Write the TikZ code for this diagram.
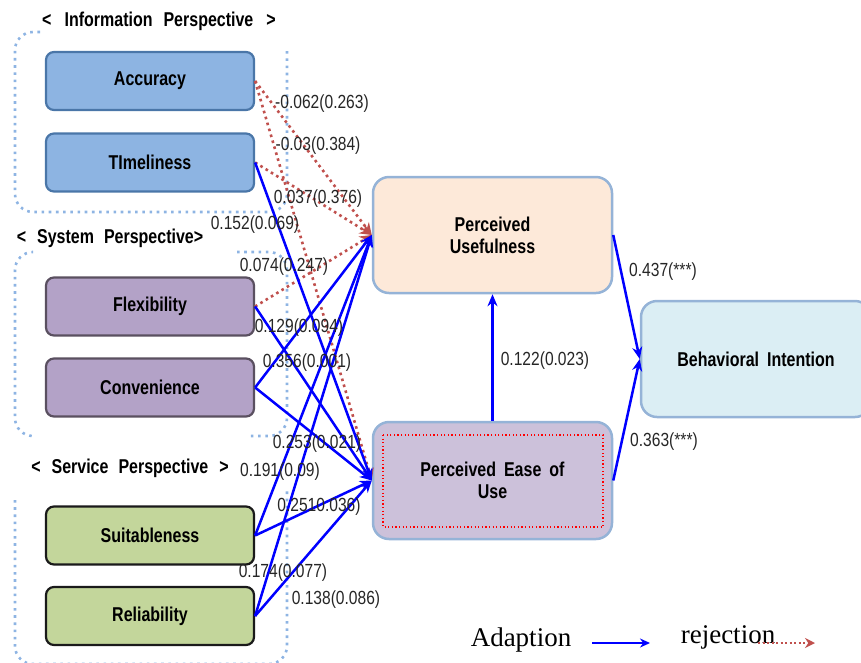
\documentclass[tikz,border=0pt]{standalone}
\usepackage{fontspec}
\setmainfont{Liberation Sans}
\newfontfamily\numfont[FakeStretch=0.82]{Liberation Sans}
\newfontfamily\boxfont[FakeStretch=0.8]{Liberation Sans}
\newfontfamily\legfont{Liberation Serif}
\usetikzlibrary{arrows.meta}
\definecolor{accfill}{HTML}{8DB4E2}
\definecolor{accdraw}{HTML}{4A76A8}
\definecolor{flexfill}{HTML}{B3A2C7}
\definecolor{flexdraw}{HTML}{5A5060}
\definecolor{suitfill}{HTML}{C3D69B}
\definecolor{suitdraw}{HTML}{1A1A1A}
\definecolor{pufill}{HTML}{FDE9D9}
\definecolor{peoufill}{HTML}{CCC1DA}
\definecolor{bifill}{HTML}{DBEEF4}
\definecolor{bigdraw}{HTML}{95B3D7}
\definecolor{grpblue}{HTML}{8EB4E3}
\definecolor{rejred}{HTML}{C0504D}
\definecolor{adblue}{HTML}{0000FF}
\begin{document}
\begin{tikzpicture}[x=1pt,y=-1pt,
  lbl/.style={font=\numfont\fontsize{19}{21}\selectfont, inner sep=0pt, text=black!85},
  persp/.style={font=\boxfont\fontsize{20}{22}\selectfont\bfseries, inner sep=0pt},
  leftbox/.style={rectangle, rounded corners=8pt, minimum width=208pt, minimum height=58pt,
     line width=2.2pt, font=\boxfont\fontsize{20}{22}\selectfont\bfseries, inner sep=0pt},
  infobox/.style={leftbox, fill=accfill, draw=accdraw},
  sysbox/.style={leftbox, fill=flexfill, draw=flexdraw},
  servbox/.style={leftbox, fill=suitfill, draw=suitdraw},
  bigbox/.style={rectangle, rounded corners=16pt, minimum height=116pt, line width=2.5pt,
     draw=bigdraw, font=\boxfont\fontsize{20}{22}\selectfont\bfseries, align=center, inner sep=0pt},
  gframe/.style={draw=grpblue, line width=2.6pt, dash pattern=on 2.6pt off 4.6pt, rounded corners=18pt},
  adopt/.style={draw=adblue, line width=2.5pt, -{Stealth[length=12pt,width=10pt]}},
  reject/.style={draw=rejred, line width=2.6pt, dash pattern=on 2.6pt off 3.6pt,
     -{Stealth[length=12pt,width=11pt,fill=rejred]}}]
\useasboundingbox (0,0) rectangle (861,662);

% group frames
\draw[gframe] (40,32) -- (15,32) -- (15,212) -- (287,212) -- (287,47);
\draw[gframe] (32,252) -- (15,252) -- (15,436) -- (32,436);
\draw[gframe] (237,252) -- (287,252) -- (287,436) -- (247,436);
\draw[gframe] (15,500) -- (15,664) -- (287,664) -- (287,488);

% perspective labels
\node[persp] (pinfo) at (159,21) {<\hspace{13pt}Information\hspace{11pt}Perspective\hspace{13pt}>};
\node[persp] (psys) at (110,238) {<\hspace{11pt}System\hspace{10pt}Perspective>};
\node[persp] (pserv) at (130,468) {<\hspace{11pt}Service\hspace{10pt}Perspective\hspace{11pt}>};

% left boxes
\node[infobox] (acc) at (150,81) {Accuracy};
\node[infobox] (tim) at (150,162.5) {TImeliness};
\node[sysbox] (flex) at (150,306.5) {Flexibility};
\node[sysbox] (conv) at (150,387.5) {Convenience};
\node[servbox] (suit) at (150,535.5) {Suitableness};
\node[servbox] (rel) at (150,616) {Reliability};

% central boxes
\node[bigbox, fill=pufill, minimum width=239pt] (pu) at (492.5,235) {Perceived\\Usefulness};
\node[bigbox, fill=peoufill, minimum width=239pt, minimum height=117pt] (peou) at (492.5,480.5) {Perceived\hspace{8pt}Ease\hspace{8pt}of\\Use};
\draw[red, line width=1.2pt, dash pattern=on 1.2pt off 2.4pt] (383,435) rectangle (603,527);
\node[bigbox, fill=bifill, minimum width=230pt] (bi) at (756,359) {Behavioral\hspace{8pt}Intention};

% rejected paths
\draw[reject] (acc.east) -- (pu.west);
\draw[reject] (acc.east) -- (peou.west);
\draw[reject] (tim.east) -- (pu.west);
\draw[reject] (flex.east) -- (pu.west);

% adopted paths
\draw[adopt] (tim.east) -- (peou.west);
\draw[adopt] (flex.east) -- (peou.west);
\draw[adopt] (conv.east) -- (pu.west);
\draw[adopt] (conv.east) -- (peou.west);
\draw[adopt] (suit.east) -- (pu.west);
\draw[adopt] (suit.east) -- (peou.west);
\draw[adopt] (rel.east) -- (pu.west);
\draw[adopt] (rel.east) -- (peou.west);
\draw[adopt] (peou.north) -- (pu.south);
\draw[adopt] (pu.east) -- (bi.west);
\draw[adopt] (peou.east) -- (bi.west);

% coefficient labels
\node[lbl] (l1) at (322,104) {-0.062(0.263)};
\node[lbl] (l2) at (318,146) {-0.03(0.384)};
\node[lbl] (l3) at (318,199) {0.037(0.376)};
\node[lbl] (l4) at (255,225) {0.152(0.069)};
\node[lbl] (l5) at (284,267) {0.074(0.247)};
\node[lbl] (l6) at (299,328) {0.129(0.094)};
\node[lbl] (l7) at (307,363) {0.356(0.001)};
\node[lbl] (l8) at (317,444) {0.253(0.021)};
\node[lbl] (l9) at (280,472) {0.191(0.09)};
\node[lbl] (l10) at (319,507) {0.2510.036)};
\node[lbl] (l11) at (283,573) {0.174(0.077)};
\node[lbl] (l12) at (336,600) {0.138(0.086)};
\node[lbl] (l13) at (545,361) {0.122(0.023)};
\node[lbl] (l14) at (663,272) {0.437(***)};
\node[lbl] (l15) at (664,442) {0.363(***)};

% legend
\node[font=\fontsize{27}{30}\selectfont\legfont, inner sep=0pt] (ladapt) at (521,640) {Adaption};
\coordinate (la1) at (592,643);
\coordinate (la2) at (650,643);
\draw[draw=adblue, line width=1.8pt, -{Stealth[length=10pt,width=9pt]}] (la1) -- (la2);
\node[font=\fontsize{27}{30}\selectfont\legfont, inner sep=0pt] (lrej) at (728,637) {rejection};
\coordinate (lr1) at (758,643);
\coordinate (lr2) at (815,643);
\draw[draw=rejred, line width=1.6pt, dash pattern=on 2pt off 2.5pt, -{Stealth[length=10pt,width=10pt,fill=rejred]}] (lr1) -- (lr2);
\end{tikzpicture}
\end{document}
